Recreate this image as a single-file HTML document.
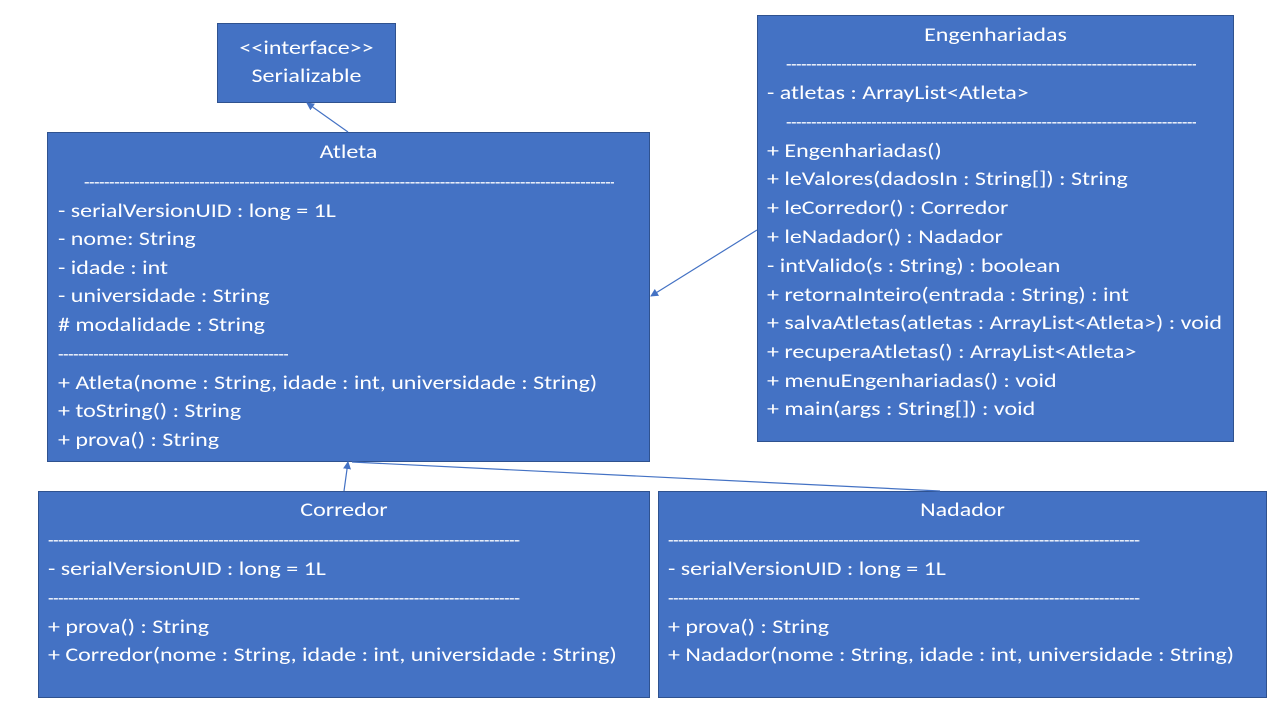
<!DOCTYPE html>
<html><head><meta charset="utf-8"><style>
body{margin:0;width:1280px;height:720px;background:#fff;position:relative;overflow:hidden;font-family:Carlito,"Liberation Sans",sans-serif;}
.b{position:absolute;background:#4472C4;border:1px solid #2F528F;box-sizing:border-box;}
.t{position:absolute;color:#fff;font-size:19px;white-space:nowrap;line-height:20px;transform:translateY(1px) scaleX(1.262);transform-origin:left center;}
.d{overflow:hidden;transform:none;font-size:18px;letter-spacing:-0.5px;}
.c{text-align:center;transform-origin:center center;}
</style></head><body>
<div class="b" style="left:217px;top:23px;width:179px;height:80px"></div>
<div class="t c" style="left:217px;top:38px;width:179px">&lt;&lt;interface&gt;&gt;</div>
<div class="t c" style="left:217px;top:66px;width:179px">Serializable</div>

<div class="b" style="left:47px;top:132px;width:603px;height:330px"></div>
<div class="t c" style="left:47px;top:142px;width:603px">Atleta</div>
<div class="t d" style="left:84px;top:172px;width:530px">------------------------------------------------------------------------------------------------------------------------------------------------------------</div>
<div class="t" style="left:58px;top:201px">- serialVersionUID : long = 1L</div>
<div class="t" style="left:58px;top:229px">- nome: String</div>
<div class="t" style="left:58px;top:258px">- idade : int</div>
<div class="t" style="left:58px;top:286px">- universidade : String</div>
<div class="t" style="left:58px;top:315px"># modalidade : String</div>
<div class="t d" style="left:58px;top:344px;width:230px">----------------------------------------------------------------------------</div>
<div class="t" style="left:58px;top:373px">+ Atleta(nome : String, idade : int, universidade : String)</div>
<div class="t" style="left:58px;top:401px">+ toString() : String</div>
<div class="t" style="left:58px;top:430px">+ prova() : String</div>

<div class="b" style="left:757px;top:15px;width:477px;height:427px"></div>
<div class="t c" style="left:757px;top:25px;width:477px">Engenhariadas</div>
<div class="t d" style="left:786px;top:54px;width:410px">------------------------------------------------------------------------------------------------------------------------------</div>
<div class="t" style="left:767px;top:83px">- atletas : ArrayList&lt;Atleta&gt;</div>
<div class="t d" style="left:786px;top:112px;width:410px">------------------------------------------------------------------------------------------------------------------------------</div>
<div class="t" style="left:767px;top:141px">+ Engenhariadas()</div>
<div class="t" style="left:767px;top:169px">+ leValores(dadosIn : String[]) : String</div>
<div class="t" style="left:767px;top:198px">+ leCorredor() : Corredor</div>
<div class="t" style="left:767px;top:227px">+ leNadador() : Nadador</div>
<div class="t" style="left:767px;top:256px">- intValido(s : String) : boolean</div>
<div class="t" style="left:767px;top:285px">+ retornaInteiro(entrada : String) : int</div>
<div class="t" style="left:767px;top:313px">+ salvaAtletas(atletas : ArrayList&lt;Atleta&gt;) : void</div>
<div class="t" style="left:767px;top:342px">+ recuperaAtletas() : ArrayList&lt;Atleta&gt;</div>
<div class="t" style="left:767px;top:371px">+ menuEngenhariadas() : void</div>
<div class="t" style="left:767px;top:399px">+ main(args : String[]) : void</div>

<div class="b" style="left:38px;top:491px;width:612px;height:207px"></div>
<div class="t c" style="left:38px;top:500px;width:612px">Corredor</div>
<div class="t d" style="left:48px;top:530px;width:472px">--------------------------------------------------------------------------------------------------------------------------------------</div>
<div class="t" style="left:48px;top:559px">- serialVersionUID : long = 1L</div>
<div class="t d" style="left:48px;top:588px;width:472px">--------------------------------------------------------------------------------------------------------------------------------------</div>
<div class="t" style="left:48px;top:617px">+ prova() : String</div>
<div class="t" style="left:48px;top:645px">+ Corredor(nome : String, idade : int, universidade : String)</div>

<div class="b" style="left:658px;top:491px;width:609px;height:207px"></div>
<div class="t c" style="left:658px;top:500px;width:609px">Nadador</div>
<div class="t d" style="left:668px;top:530px;width:472px">--------------------------------------------------------------------------------------------------------------------------------------</div>
<div class="t" style="left:668px;top:559px">- serialVersionUID : long = 1L</div>
<div class="t d" style="left:668px;top:588px;width:472px">--------------------------------------------------------------------------------------------------------------------------------------</div>
<div class="t" style="left:668px;top:617px">+ prova() : String</div>
<div class="t" style="left:668px;top:645px">+ Nadador(nome : String, idade : int, universidade : String)</div>

<svg width="1280" height="720" style="position:absolute;left:0;top:0">
<defs><marker id="a" markerWidth="8" markerHeight="8" refX="7" refY="4" orient="auto" markerUnits="userSpaceOnUse"><path d="M0,0 L8,4 L0,8 z" fill="#4472C4"/></marker></defs>
<g stroke="#4472C4" stroke-width="1.2" fill="none">
<line x1="348" y1="132" x2="307" y2="103" marker-end="url(#a)"/>
<line x1="757" y1="230" x2="651" y2="296" marker-end="url(#a)"/>
<line x1="344" y1="491" x2="348" y2="462" marker-end="url(#a)"/>
<line x1="940" y1="491" x2="352" y2="462"/>
</g></svg>
</body></html>
